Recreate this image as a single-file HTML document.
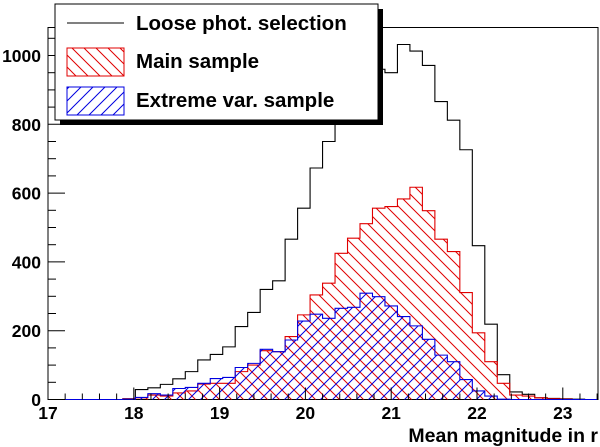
<!DOCTYPE html>
<html><head><meta charset="utf-8"><style>
html,body{margin:0;padding:0;background:#fff;}
svg{display:block;font-family:"Liberation Sans",Arial,sans-serif;font-weight:bold;}
</style></head><body>
<svg id="chart" width="600" height="447" viewBox="0 0 600 447" xmlns="http://www.w3.org/2000/svg">
<defs>
<pattern id="hatchRed" patternUnits="userSpaceOnUse" width="12" height="12"><path d="M-3,-3 L15,15 M-3,9 L3,15 M9,-3 L15,3" stroke="#e00000" stroke-width="1"/></pattern>
<pattern id="hatchBlue" patternUnits="userSpaceOnUse" width="12" height="12"><path d="M-3,15 L15,-3 M-3,3 L3,-3 M9,15 L15,9" stroke="#0000e0" stroke-width="1"/></pattern>
</defs>
<rect x="48" y="27.5" width="550" height="372" fill="none" stroke="#000" stroke-width="1"/>
<g id="hists"></g>
<g id="axes"></g>
<g>
<rect x="60" y="9" width="323" height="116" fill="#000"/>
<rect x="55" y="4" width="323" height="116" fill="#fff" stroke="#000" stroke-width="1"/>
<line x1="67" y1="23" x2="124" y2="23" stroke="#000" stroke-width="1"/>
<text x="136" y="30" font-size="20.5">Loose phot. selection</text>
<rect x="67" y="48" width="57" height="28" fill="url(#hatchRed)" stroke="#e00000"/>
<text x="136" y="68" font-size="20.5">Main sample</text>
<rect x="67" y="87" width="57" height="28" fill="url(#hatchBlue)" stroke="#0000e0"/>
<text x="136" y="107" font-size="20.5">Extreme var. sample</text>
</g>
<text x="598" y="442" font-size="19.5" text-anchor="end">Mean magnitude in r</text>
</svg>
<script>
const binStart = 17, binWidth = 6.4/44;
const looseCounts = [0,0,0,0,0,0,2,29,34,44,60,81,115,131,153,212,253,320,345,466,556,673,750,850,900,930,960,950,1032,1013,971,866,812,726,447,219,72,22,15,5,3,2,1,0];
const mainCounts = [0,0,0,0,0,0,2,5,13,10,19,25,45,47,47,81,100,142,139,183,246,304,338,425,469,511,556,561,583,617,549,466,430,311,194,110,47,13,10,5,2,1,0,0];
const extremeCounts = [0,0,0,0,0,0,1,6,17,13,32,35,47,61,64,93,105,146,139,173,228,248,236,265,268,309,299,272,241,214,175,129,110,58,25,10,1,0,0,0,0,0,0,0];
const xTickLabels = ["17","18","19","20","21","22","23"];
const yTickLabels = ["0","200","400","600","800","1000"];
const NS="http://www.w3.org/2000/svg";
const X = v => 48 + (v-17)*85.8;
const Y = v => 399.5 - v*0.344;
function stepPath(counts){
  let d = "M"+X(binStart)+","+Y(0);
  counts.forEach((c,i)=>{
    const x0 = X(binStart+i*binWidth), x1 = X(binStart+(i+1)*binWidth);
    d += " L"+x0+","+Y(c)+" L"+x1+","+Y(c);
  });
  d += " L"+X(binStart+counts.length*binWidth)+","+Y(0);
  return d;
}
const hg = document.getElementById('hists');
function addHist(counts, fill, stroke, name){
  const p = document.createElementNS(NS,'path');
  p.setAttribute('d', stepPath(counts));
  p.setAttribute('fill', fill);
  p.setAttribute('stroke', stroke);
  p.setAttribute('stroke-width', '1.1');
  
  
  hg.appendChild(p);
}
addHist(looseCounts,'none','#000','histogram-loose-selection');
addHist(mainCounts,'url(#hatchRed)','#e00000','histogram-main-sample');
addHist(extremeCounts,'url(#hatchBlue)','#0000e0','histogram-extreme-var-sample');
const ag = document.getElementById('axes');
function line(x1,y1,x2,y2){
  const l = document.createElementNS(NS,'line');
  l.setAttribute('x1',x1);l.setAttribute('y1',y1);l.setAttribute('x2',x2);l.setAttribute('y2',y2);
  l.setAttribute('stroke','#000');
  
  
  ag.appendChild(l);
}
for(let v=0; v<=1050; v+=50){ line(48,Y(v),48+(v%200===0?17:8),Y(v)); }
for(let v=17; v<=23.41; v+=0.2){ const maj = Math.abs(v-Math.round(v))<0.01; line(X(v),399.5,X(v),399.5-(maj?12:6)); }
yTickLabels.forEach(t=>{
  const e = document.createElementNS(NS,'text');
  e.setAttribute('x', 41); e.setAttribute('y', Y(+t)+6.5);
  e.setAttribute('text-anchor','end'); e.setAttribute('font-size','17.5');
  
  
  e.textContent = t; ag.appendChild(e);
});
xTickLabels.forEach(t=>{
  const e = document.createElementNS(NS,'text');
  e.setAttribute('x', X(+t)); e.setAttribute('y', 419);
  e.setAttribute('text-anchor','middle'); e.setAttribute('font-size','17.5');
  
  
  e.textContent = t; ag.appendChild(e);
});
</script>
</body></html>
